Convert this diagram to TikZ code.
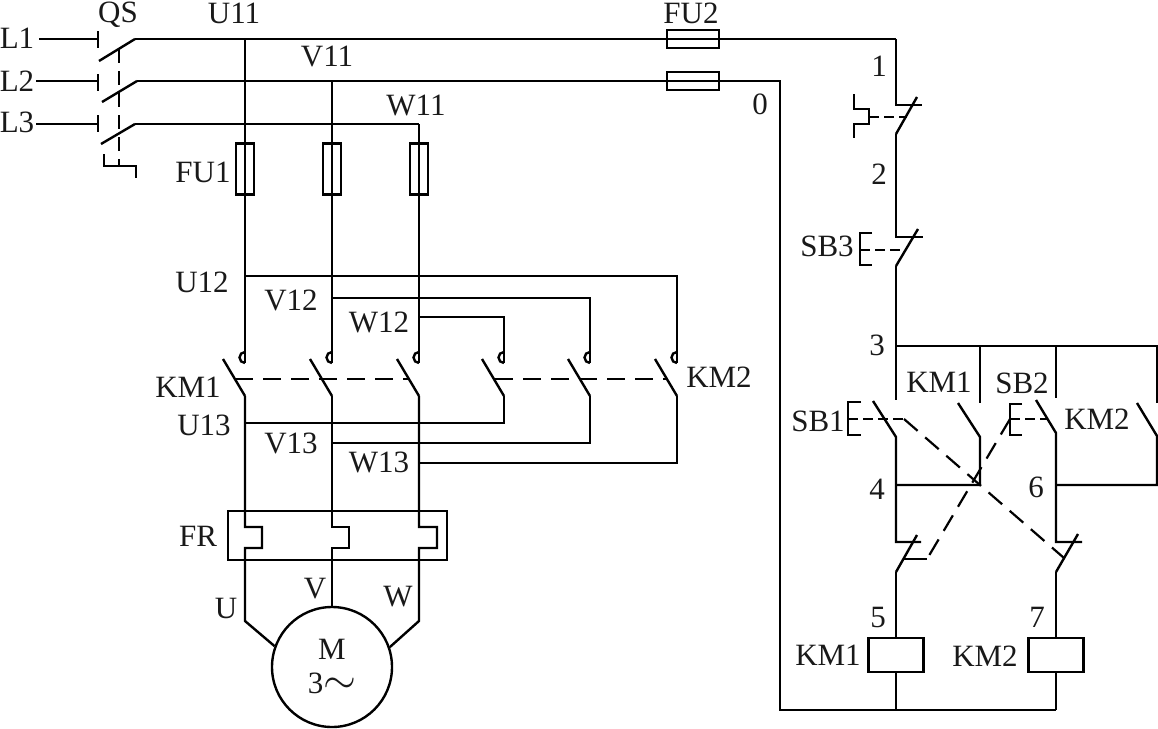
\documentclass[tikz,border=0pt]{standalone}
\usepackage{fontspec}
\setmainfont{Liberation Serif}
\tikzset{
  wire/.style={line width=2.4pt},
  link/.style={line width=2.2pt, dash pattern=on 18pt off 10pt},
  push/.style={line width=2.2pt, dash pattern=on 10pt off 5pt},
  tag/.style={font=\fontsize{31}{31}\selectfont, inner sep=0pt, text=black!90},
  fuseup/.style={draw, line width=2.4pt, inner sep=0pt, minimum width=18pt, minimum height=51pt},
  fuseside/.style={draw, line width=2.4pt, inner sep=0pt, minimum width=52pt, minimum height=18pt},
  coil/.style={draw, line width=2.6pt, inner sep=0pt, minimum width=55pt, minimum height=34pt},
}
\begin{document}
\begin{tikzpicture}[x=1pt, y=-1pt, wire]
  \useasboundingbox (0,0) rectangle (1158,728);

  % Supply and QS
  \node[tag] (l1) at (17,38) {L1};
  \node[tag] (l2) at (17,81) {L2};
  \node[tag] (l3) at (17,122) {L3};
  \node[tag] (qs) at (118,14.5) {QS};
  \coordinate (s1) at (39,39);
  \coordinate (s2) at (36,81);
  \coordinate (s3) at (36,124);
  \coordinate (a1) at (98,39);
  \coordinate (a2) at (98,81);
  \coordinate (a3) at (98,124);
  \coordinate (b1) at (135,39);
  \coordinate (b2) at (137,81);
  \coordinate (b3) at (135,124);
  \draw (s1) -- (a1);
  \draw (s2) -- (a2);
  \draw (s3) -- (a3);
  \draw (98,31) -- (98,48);
  \draw (98,74) -- (98,91);
  \draw (98,115) -- (98,132);
  \draw (99,61) -- (b1);
  \draw (102,102) -- (b2);
  \draw (101,144) -- (b3);
  \draw[line width=2.2pt, dash pattern=on 14pt off 8pt] (119,49) -- (119,166);
  \draw (104,154) -- (104,166) -- (136,166) -- (136,178);

  % Bus lines
  \node[tag] (u11) at (234,13) {U11};
  \node[tag] (v11) at (327,57) {V11};
  \node[tag] (w11) at (416,105) {W11};
  \node[tag] (fu2) at (691,13) {FU2};
  \node[tag] (n0) at (760,104) {0};
  \node[fuseside] (fu2a) at (693,39) {};
  \node[fuseside] (fu2b) at (693,81) {};
  \coordinate (top1) at (896,39);
  \coordinate (top0) at (780,81);
  \coordinate (w0) at (419,124);
  \coordinate (low0) at (780,710);
  \coordinate (low5) at (896,710);
  \coordinate (low7) at (1056,710);
  \draw (b1) -- (top1);
  \draw (b2) -- (top0) -- (low0) -- (low7);
  \draw (b3) -- (w0);

  % Main contacts
  \node[tag] (fu1) at (203,172) {FU1};
  \node[fuseup] (fu1a) at (245,169) {};
  \node[fuseup] (fu1b) at (332,169) {};
  \node[fuseup] (fu1c) at (419,169) {};
  \foreach \name/\x in {u/245, v/332, w/419, p/504, q/590, r/677} {
    \coordinate (\name h) at (\x,363);
    \coordinate (\name c) at (\x,396);
    \draw (\name h) ++(0,-11) arc (90:270:5.5pt);
    \draw (\name c) -- ++(-22,-37);
  }
  \coordinate (u12) at (245,276);
  \coordinate (v12) at (332,298);
  \coordinate (w12) at (419,317);
  \coordinate (u13) at (245,423);
  \coordinate (v13) at (332,443);
  \coordinate (w13) at (419,463);
  \draw (245,39) -- (uh);
  \draw (332,81) -- (vh);
  \draw (w0) -- (wh);
  \draw (u12) -- (677,276) -- (rh);
  \draw (v12) -- (590,298) -- (qh);
  \draw (w12) -- (504,317) -- (ph);
  \draw (pc) -- (504,423) -- (u13);
  \draw (qc) -- (590,443) -- (v13);
  \draw (rc) -- (677,463) -- (w13);
  \draw[link] (235,379) -- (409,379);
  \draw[link] (495,379) -- (667,379);
  \node[tag] at (202,282) (lu12) {U12};
  \node[tag] at (291,300) (lv12) {V12};
  \node[tag] at (379,322) (lw12) {W12};
  \node[tag] at (188,387) (lkm1) {KM1};
  \node[tag] at (719,377) (lkm2) {KM2};
  \node[tag] at (204,425) (lu13) {U13};
  \node[tag] at (291,443) (lv13) {V13};
  \node[tag] at (379,462) (lw13) {W13};

  % FR and motor
  \node[tag] (fr) at (198,536) {FR};
  \node[draw, wire, inner sep=0pt, minimum width=219pt, minimum height=49pt] (frbox) at (337.5,535.5) {};
  \node[draw, wire, circle, inner sep=0pt, minimum size=120pt] (motor) at (332,667) {};
  \node[tag] (m) at (332,649) {M};
  \node[tag] (m3) at (332,683) {3$\smash{\scalebox{1.7}{$\sim$}}$};
  \node[tag] (lu) at (226,608) {U};
  \node[tag] (lv) at (315,589) {V};
  \node[tag] (lw) at (398,597) {W};
  \draw (uc) -- (245,527) -- ++(17,0) -- ++(0,21) -- ++(-17,0) -- (245,621) -- (motor.160);
  \draw (vc) -- (332,527) -- ++(17,0) -- ++(0,21) -- ++(-17,0) -- (motor.north);
  \draw (wc) -- (419,527) -- ++(18,0) -- ++(0,21) -- ++(-18,0) -- (419,621) -- (motor.19);

  % Control circuit
  \node[tag] (n1) at (879,66) {1};
  \node[tag] (n2) at (879,174) {2};
  \node[tag] (n3) at (877,345) {3};
  \node[tag] (n4) at (877,489) {4};
  \node[tag] (n6) at (1036,487) {6};
  \node[tag] (n5) at (878,617) {5};
  \node[tag] (n7) at (1037,617) {7};
  \node[tag] (sb3) at (827,246) {SB3};
  \node[tag] (sb1) at (818,421) {SB1};
  \node[tag] (sb2) at (1022,383) {SB2};
  \node[tag] (hkm1) at (939,382) {KM1};
  \node[tag] (hkm2) at (1097,419) {KM2};
  \node[tag] (ckm1) at (828,655) {KM1};
  \node[tag] (ckm2) at (985,656) {KM2};
  \node[coil] (coil1) at (896,655) {};
  \node[coil] (coil2) at (1056,655) {};

  % Stop buttons
  \draw (top1) -- (896,105) -- (922,105);
  \draw (896,134) -- (917,97);
  \draw (854,94) -- (854,109) -- (869,109) -- (869,124) -- (854,124) -- (854,138);
  \draw[push] (869,117) -- (907,117);
  \draw (896,134) -- (896,237) -- (923,237);
  \draw (896,266) -- (918,229);
  \draw (872,233) -- (860,233) -- (860,265) -- (872,265);
  \draw[push] (860,250) -- (905,250);
  \coordinate (j3) at (896,346);
  \coordinate (j3km) at (980,346);
  \coordinate (j3sb) at (1056,346);
  \coordinate (j3r) at (1157,346);
  \draw (896,266) -- (j3) -- (896,400);
  \draw (j3) -- (j3r) -- (1157,403);
  \draw (j3km) -- (980,403);
  \draw (j3sb) -- (1056,398);

  % Start buttons and interlocks
  \coordinate (j4) at (896,485);
  \coordinate (j6) at (1056,485);
  \draw (873,401) -- (896,437) -- (896,542) -- (921,542);
  \draw (896,572) -- (917,535);
  \draw (896,572) -- (coil1.north);
  \draw (958,403) -- (980,437) -- (980,485) -- (j4);
  \draw (1036,400) -- (1056,433) -- (1056,542) -- (1082,542);
  \draw (1056,572) -- (1078,534);
  \draw (1056,572) -- (coil2.north);
  \draw (1137,403) -- (1157,436) -- (1157,485) -- (j6);
  \draw (861,402) -- (848,402) -- (848,435) -- (861,435);
  \draw (1022,404) -- (1010,404) -- (1010,435) -- (1022,435);
  \draw[push] (848,419) -- (904,419);
  \draw[push] (1010,419) -- (1047,419);
  \draw[link] (904,419) -- (1064,558);
  \draw[link] (1010,419) -- (927,559);
  \draw (927,559) -- (903,559);

  % Coil returns
  \draw (coil1.south) -- (low5);
  \draw (coil2.south) -- (low7);
\end{tikzpicture}
\end{document}
